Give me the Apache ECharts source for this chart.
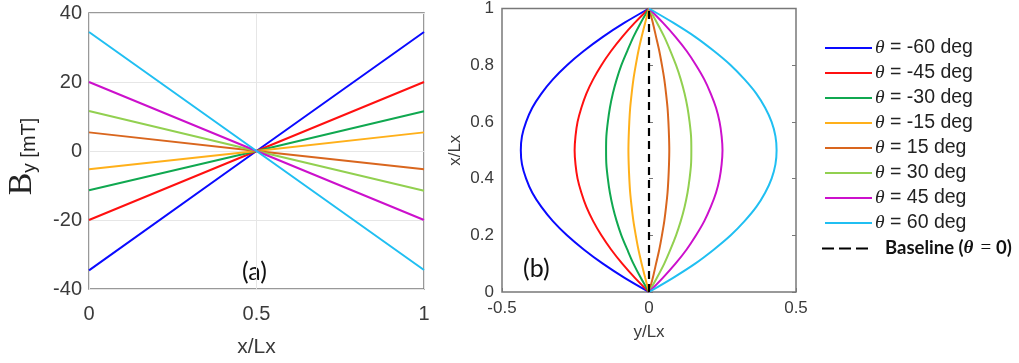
<!DOCTYPE html>
<html>
<head>
<meta charset="utf-8">
<script src="https://cdn.jsdelivr.net/npm/echarts@6/dist/echarts.min.js"></script>
<style>
  html, body { margin: 0; padding: 0; background: #fff; }
  #chart { width: 1019px; height: 363px; }
</style>
</head>
<body>
<div id="chart"></div>
<script>
// Field profile B_y along x/Lx for each tilt angle (panel a)
const fieldX = [0, 0.5, 1];
const byM60 = [-34.6, 0, 34.5];
const byM45 = [-20.0, 0, 20.0];
const byM30 = [-11.4, 0, 11.5];
const byM15 = [-5.3, 0, 5.4];
const byP15 = [5.4, 0, -5.3];
const byP30 = [11.6, 0, -11.5];
const byP45 = [20.0, 0, -20.0];
const byP60 = [34.5, 0, -34.5];

// Trajectory shapes: y/Lx reached at each height x/Lx (panel b)
const heightLevels = [0, 0.05, 0.1, 0.15, 0.2, 0.25, 0.3, 0.35, 0.4, 0.45, 0.5,
                      0.55, 0.6, 0.65, 0.7, 0.75, 0.8, 0.85, 0.9, 0.95, 1];
const yM60 = [0, -0.083, -0.157, -0.222, -0.279, -0.327, -0.366, -0.397, -0.418, -0.432, -0.436,
              -0.432, -0.418, -0.397, -0.366, -0.327, -0.279, -0.222, -0.157, -0.083, 0];
const yM45 = [0, -0.048, -0.091, -0.129, -0.162, -0.190, -0.213, -0.230, -0.243, -0.250, -0.253,
              -0.250, -0.243, -0.230, -0.213, -0.190, -0.162, -0.129, -0.091, -0.048, 0];
const yM30 = [0, -0.028, -0.053, -0.074, -0.094, -0.110, -0.123, -0.133, -0.140, -0.145, -0.146,
              -0.145, -0.140, -0.133, -0.123, -0.110, -0.094, -0.074, -0.053, -0.028, 0];
const yM15 = [0, -0.013, -0.025, -0.036, -0.045, -0.053, -0.059, -0.064, -0.067, -0.069, -0.070,
              -0.069, -0.067, -0.064, -0.059, -0.053, -0.045, -0.036, -0.025, -0.013, 0];
const yP15 = [0, 0.013, 0.024, 0.035, 0.044, 0.052, 0.058, 0.063, 0.066, 0.068, 0.069,
              0.068, 0.066, 0.063, 0.058, 0.052, 0.044, 0.035, 0.024, 0.013, 0];
const yP30 = [0, 0.027, 0.052, 0.073, 0.092, 0.108, 0.121, 0.131, 0.138, 0.143, 0.144,
              0.143, 0.138, 0.131, 0.121, 0.108, 0.092, 0.073, 0.052, 0.027, 0];
const yP45 = [0, 0.047, 0.090, 0.128, 0.160, 0.188, 0.210, 0.228, 0.240, 0.247, 0.250,
              0.247, 0.240, 0.228, 0.210, 0.188, 0.160, 0.128, 0.090, 0.047, 0];
const yP60 = [0, 0.082, 0.157, 0.221, 0.278, 0.325, 0.365, 0.395, 0.417, 0.430, 0.434,
              0.430, 0.417, 0.395, 0.365, 0.325, 0.278, 0.221, 0.157, 0.082, 0];
const baselineY = [0, 0];
const baselineX = [0, 1];

// Legend labels and tick labels
const thetaNames = ['θ = -60 deg', 'θ = -45 deg', 'θ = -30 deg', 'θ = -15 deg',
                    'θ = 15 deg', 'θ = 30 deg', 'θ = 45 deg', 'θ = 60 deg'];
const baselineName = 'Baseline';
const leftXTicks = ['0', '0.5', '1'];
const leftYTicks = ['-40', '-20', '0', '20', '40'];
const rightXTicks = ['-0.5', '0', '0.5'];
const rightYTicks = ['0', '0.2', '0.4', '0.6', '0.8', '1'];

const thetaColors = ['#0a0aff', '#ff1010', '#10a850', '#ffb01a',
                     '#d9661e', '#92d050', '#cc10cc', '#20bff2'];

const fieldSets = [byM60, byM45, byM30, byM15, byP15, byP30, byP45, byP60];
const pathSets = [yM60, yM45, yM30, yM15, yP15, yP30, yP45, yP60];

const axisGrey = '#787878';
const labelGrey = '#3a3a3a';
const sans = 'Liberation Sans, Arial, sans-serif';
const serif = 'Liberation Serif, Times New Roman, serif';

function tickFormatter(list, vals) {
  return function (v) {
    for (let i = 0; i < vals.length; i++) {
      if (Math.abs(v - vals[i]) < 1e-9) return list[i];
    }
    return '';
  };
}

const series = [];
fieldSets.forEach(function (arr, i) {
  series.push({
    name: thetaNames[i], type: 'line', xAxisIndex: 0, yAxisIndex: 0,
    symbol: 'none', silent: true,
    lineStyle: { color: thetaColors[i], width: 2 },
    itemStyle: { color: thetaColors[i] },
    data: fieldX.map(function (x, k) { return [x, arr[k]]; })
  });
});
pathSets.forEach(function (arr, i) {
  series.push({
    name: thetaNames[i], type: 'line', xAxisIndex: 1, yAxisIndex: 1,
    symbol: 'none', silent: true, smooth: 0.3,
    lineStyle: { color: thetaColors[i], width: 2 },
    itemStyle: { color: thetaColors[i] },
    data: heightLevels.map(function (h, k) { return [arr[k], h]; })
  });
});
series.push({
  name: baselineName, type: 'line', xAxisIndex: 1, yAxisIndex: 1,
  symbol: 'none', silent: true, z: 5,
  lineStyle: { color: '#000', width: 2.2, type: [8, 5] },
  itemStyle: { color: '#000' },
  data: baselineX.map(function (h, k) { return [baselineY[k], h]; })
});

const option = {
  animation: false,
  backgroundColor: '#fff',
  grid: [
    { left: 89, top: 13, width: 335, height: 280, show: true,
      borderColor: axisGrey, borderWidth: 1.5, backgroundColor: 'transparent' },
    { left: 502, top: 7, width: 294, height: 285, show: true,
      borderColor: axisGrey, borderWidth: 1.5, backgroundColor: 'transparent' }
  ],
  xAxis: [
    { type: 'value', gridIndex: 0, min: 0, max: 1, interval: 0.5,
      axisLine: { show: false }, axisTick: { show: false },
      splitLine: { show: true, lineStyle: { color: '#e6e6e6', width: 1 } },
      axisLabel: { color: labelGrey, fontFamily: sans, fontSize: 20, margin: 15,
                   formatter: tickFormatter(leftXTicks, [0, 0.5, 1]) },
      name: 'x/Lx', nameLocation: 'middle', nameGap: 48,
      nameTextStyle: { color: labelGrey, fontFamily: sans, fontSize: 21 } },
    { type: 'value', gridIndex: 1, min: -0.5, max: 0.5, interval: 0.5,
      axisLine: { show: false },
      axisTick: { show: true, inside: true, length: 4, lineStyle: { color: axisGrey } },
      splitLine: { show: false },
      axisLabel: { color: labelGrey, fontFamily: sans, fontSize: 17, margin: 8,
                   formatter: tickFormatter(rightXTicks, [-0.5, 0, 0.5]) },
      name: 'y/Lx', nameLocation: 'middle', nameGap: 32,
      nameTextStyle: { color: labelGrey, fontFamily: sans, fontSize: 17 } }
  ],
  yAxis: [
    { type: 'value', gridIndex: 0, min: -40, max: 40, interval: 20,
      axisLine: { show: false }, axisTick: { show: false },
      splitLine: { show: true, lineStyle: { color: '#e6e6e6', width: 1 } },
      axisLabel: { color: labelGrey, fontFamily: sans, fontSize: 20, margin: 7,
                   formatter: tickFormatter(leftYTicks, [-40, -20, 0, 20, 40]) },
      name: '{b|B}{s|y}{u| [mT]}', nameLocation: 'middle', nameGap: 50, nameRotate: 90,
      nameTextStyle: {
        padding: [0, 11, 0, 0],
        rich: {
          b: { fontFamily: serif, fontSize: 34, color: '#222', lineHeight: 36, verticalAlign: 'bottom' },
          s: { fontFamily: sans, fontSize: 19, color: '#222', lineHeight: 25, verticalAlign: 'bottom' },
          u: { fontFamily: sans, fontSize: 20, color: '#222', lineHeight: 30, verticalAlign: 'bottom' }
        }
      } },
    { type: 'value', gridIndex: 1, min: 0, max: 1, interval: 0.2,
      axisLine: { show: false },
      axisTick: { show: true, inside: true, length: 4, lineStyle: { color: axisGrey } },
      splitLine: { show: false },
      axisLabel: { color: labelGrey, fontFamily: sans, fontSize: 17, margin: 8,
                   formatter: tickFormatter(rightYTicks, [0, 0.2, 0.4, 0.6, 0.8, 1]) },
      name: 'x/Lx', nameLocation: 'middle', nameGap: 38,
      nameTextStyle: { color: labelGrey, fontFamily: sans, fontSize: 17 } },
    { type: 'value', gridIndex: 1, min: 0, max: 1, interval: 0.2, position: 'right',
      axisLine: { show: false },
      axisTick: { show: true, inside: true, length: 4, lineStyle: { color: axisGrey } },
      splitLine: { show: false }, axisLabel: { show: false } }
  ],
  legend: [
    { orient: 'vertical', left: 825, top: 38, padding: 0,
      icon: 'rect', itemWidth: 47, itemHeight: 2, itemGap: 5, selectedMode: false,
      data: thetaNames,
      formatter: function (name) {
        return '{th|θ}{t|' + name.replace('θ', '') + '}';
      },
      textStyle: {
        rich: {
          th: { fontFamily: serif, fontStyle: 'italic', fontSize: 19.5, color: '#222', padding: [0, 0, 0, -2] },
          t: { fontFamily: sans, fontSize: 19.5, color: '#222' }
        }
      } },
    { orient: 'vertical', left: 822, top: 239, padding: 0,
      icon: 'path://M0,0h12v2h-12z M17,0h12v2h-12z M34,0h12v2h-12z',
      itemWidth: 46, itemHeight: 2.2, selectedMode: false,
      itemStyle: { color: '#000' },
      data: [baselineName],
      formatter: function () {
        return '{sp| }{b|Baseline (}{th|θ}{eq|= }{b|0)}';
      },
      textStyle: {
        rich: {
          sp: { width: 12 },
          b: { fontFamily: 'Lato, sans-serif', fontWeight: 'bold', fontSize: 18.5, color: '#111' },
          th: { fontFamily: serif, fontStyle: 'italic', fontWeight: 'bold', fontSize: 19, color: '#111' },
          eq: { fontFamily: serif, fontSize: 19, color: '#111', padding: [0, 0, 0, 7] }
        }
      } }
  ],
  graphic: [
    { type: 'text', left: 242, top: 259, style: { text: '(a)', font: '25px Lato, sans-serif',
      fill: '#111' } },
    { type: 'text', left: 523, top: 256, style: { text: '(b)', font: '25px Lato, sans-serif',
      fill: '#111' } }
  ],
  series: series
};

const chart = echarts.init(document.getElementById('chart'), null, { renderer: 'canvas' });
chart.setOption(option);
</script>
</body>
</html>
